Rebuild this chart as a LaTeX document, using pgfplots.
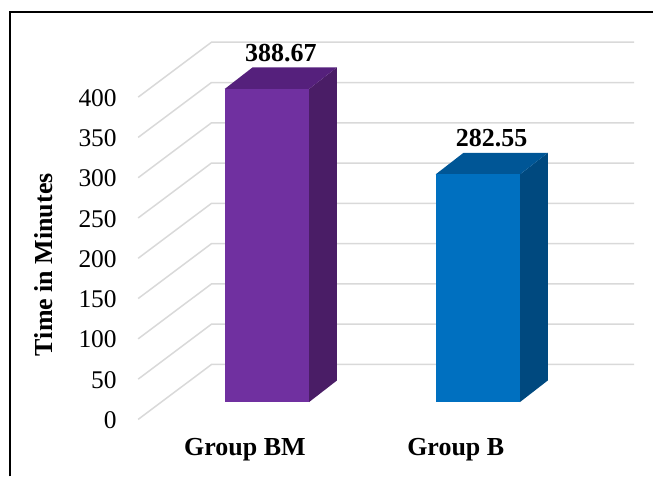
\documentclass[border=0pt]{standalone}
\usepackage{pgfplots}
\pgfplotsset{compat=1.18}
\usepackage{fontspec}
\setmainfont{Liberation Serif}
\definecolor{pfront}{HTML}{7030A0}
\definecolor{ptop}{HTML}{55207C}
\definecolor{pside}{HTML}{4A1D66}
\definecolor{bfront}{HTML}{0070C0}
\definecolor{btop}{HTML}{005696}
\definecolor{bside}{HTML}{00497F}
\definecolor{gridc}{HTML}{D9D9D9}
\newcommand{\regfont}{\fontsize{25.5}{30}\selectfont}
\newcommand{\boldfont}{\fontsize{26}{30}\selectfont\bfseries}
\begin{document}
\begin{tikzpicture}
\begin{axis}[
  x=211.2pt, y=0.807pt,
  xmin=-1.26515, xmax=1.83144,
  ymin=-92.07, ymax=499.01,
  axis line style={draw=none},
  clip=false,
  major tick length=0pt,
  /pgf/number format/assume math mode=true,
  ytick={0,50,100,150,200,250,300,350,400},
  yticklabel style={font=\regfont, anchor=east, inner sep=0pt, xshift=117pt, yshift=-18pt},
  xtick={0,1},
  xticklabels={Group BM, Group B},
  xticklabel style={font=\boldfont, anchor=center, xshift=-22pt, yshift=26.5pt},
]
% frame
\addplot[black, line width=2pt] coordinates {(-1.2178,-92.07) (-1.2178,484.1) (1.83144,484.1)};
% gridlines
\addplot[gridc, line width=1.5pt] coordinates {(-0.6103,-21.44) (-0.2628,46.71) (1.7415,46.71)};
\addplot[gridc, line width=1.5pt] coordinates {(-0.6103,28.56) (-0.2628,96.71) (1.7415,96.71)};
\addplot[gridc, line width=1.5pt] coordinates {(-0.6103,78.56) (-0.2628,146.71) (1.7415,146.71)};
\addplot[gridc, line width=1.5pt] coordinates {(-0.6103,128.56) (-0.2628,196.71) (1.7415,196.71)};
\addplot[gridc, line width=1.5pt] coordinates {(-0.6103,178.56) (-0.2628,246.71) (1.7415,246.71)};
\addplot[gridc, line width=1.5pt] coordinates {(-0.6103,228.56) (-0.2628,296.71) (1.7415,296.71)};
\addplot[gridc, line width=1.5pt] coordinates {(-0.6103,278.56) (-0.2628,346.71) (1.7415,346.71)};
\addplot[gridc, line width=1.5pt] coordinates {(-0.6103,328.56) (-0.2628,396.71) (1.7415,396.71)};
\addplot[gridc, line width=1.5pt] coordinates {(-0.6103,378.56) (-0.2628,446.71) (1.7415,446.71)};
% Group BM: side and top faces
\addplot[fill=pside, draw=none] coordinates {(0.2,0) (0.3326,26.89) (0.3326,415.56) (0.2,388.67)} -- cycle;
\addplot[fill=ptop, draw=none] coordinates {(-0.2,388.67) (0.2,388.67) (0.3326,415.56) (-0.0674,415.56)} -- cycle;
% Group B: side and top faces
\addplot[fill=bside, draw=none] coordinates {(1.2,0) (1.3326,26.89) (1.3326,309.44) (1.2,282.55)} -- cycle;
\addplot[fill=btop, draw=none] coordinates {(0.8,282.55) (1.2,282.55) (1.3326,309.44) (0.9326,309.44)} -- cycle;
% front faces with value labels
\addplot[ybar, bar width=0.4, fill=pfront, draw=none,
  nodes near coords, nodes near coords style={font=\boldfont, anchor=base, inner sep=0pt, xshift=14pt, yshift=27.7pt, text=black}]
  coordinates {(0,388.67)};
\addplot[ybar, bar width=0.4, fill=bfront, draw=none,
  nodes near coords, nodes near coords style={font=\boldfont, anchor=base, inner sep=0pt, xshift=14pt, yshift=27.7pt, text=black}]
  coordinates {(1,282.55)};
% y axis title
\node[font=\boldfont, rotate=90, anchor=center] at (axis cs:-1.0578,170.6) {Time in Minutes};
\path (rel axis cs:0,0) rectangle (rel axis cs:1,1);
\end{axis}
\end{tikzpicture}
\end{document}
